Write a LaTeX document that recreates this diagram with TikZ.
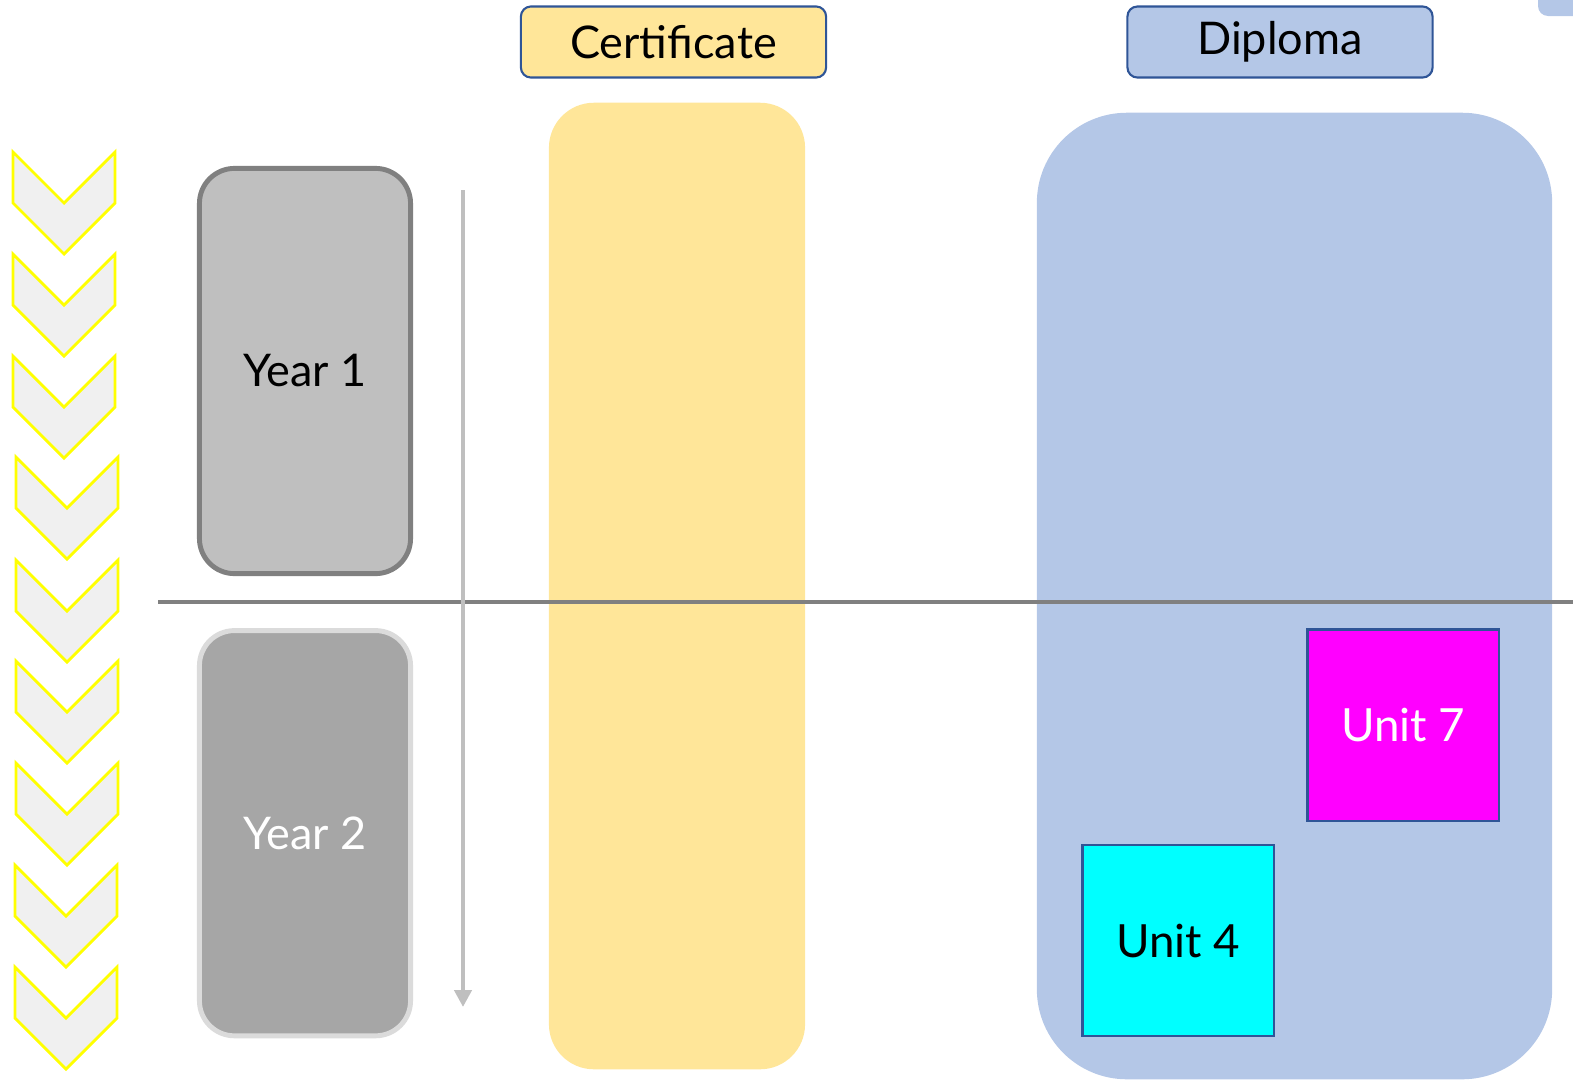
\documentclass[tikz,border=0pt]{standalone}
\usepackage{fontspec}
\setmainfont{Lato}
\usetikzlibrary{positioning,arrows.meta}

\definecolor{chevfill}{HTML}{F0F0F0}
\definecolor{chevline}{HTML}{FFFF00}
\definecolor{certfill}{HTML}{FFE699}
\definecolor{diplfill}{HTML}{B4C7E7}
\definecolor{headline}{HTML}{2F5597}
\definecolor{yearone}{HTML}{BFBFBF}
\definecolor{yeartwo}{HTML}{A6A6A6}
\definecolor{unitseven}{HTML}{FF00FF}
\definecolor{unitfour}{HTML}{00FFFF}

\begin{document}
\begin{tikzpicture}[
    x=0.01cm, y=-0.01cm,
    column/.style={rectangle, rounded corners=0.45cm, inner sep=0pt},
    header/.style={rectangle, draw=headline, line width=0.6pt, rounded corners=0.1cm,
        minimum width=3.05cm, minimum height=0.71cm, inner sep=0pt,
        font=\fontsize{12.8}{14}\selectfont},
    yearbox/.style={rectangle, line width=1.4pt, rounded corners=0.35cm,
        minimum width=2.11cm, minimum height=4.05cm, inner sep=0pt,
        font=\fontsize{12.8}{15}\selectfont},
    unitbox/.style={rectangle, draw=headline, line width=0.6pt,
        minimum size=1.91cm, inner sep=0pt, font=\fontsize{13}{15}\selectfont},
    chevron/.style={draw=chevline, fill=chevfill, line width=0.8pt},
    timeline/.style={-{Triangle[width=0.17cm, length=0.17cm]}, draw=yearone, line width=1.4pt}
]
    \useasboundingbox (0,0) rectangle (1573,1081);

    % columns
    \node[column, fill=certfill, minimum width=2.56cm, minimum height=9.66cm] (certcol) at (677,586) {};
    \node[column, fill=diplfill, rounded corners=0.9cm, minimum width=5.15cm, minimum height=9.66cm] (diplcol) at (1294.5,596) {};
    \fill[diplfill, rounded corners=0.1cm] (1538,-40) rectangle (1640,16);

    % headers
    \node[header, fill=certfill] (cert) at (673.5,42) {Certificate};
    \node[header, fill=diplfill] (dipl) at (1280,42) {Diploma};

    % years
    \node[yearbox, draw=gray, fill=yearone] (year1) at (305,371) {Year 1};
    \node[yearbox, draw=yeartwo!40, fill=yeartwo, text=white, below=0.52cm of year1] (year2) {Year 2};

    % divider and time arrow
    \coordinate (lineL) at (158,602);
    \coordinate (lineR) at (1573,602);
    \draw[gray, line width=1.4pt] (lineL) -- (lineR);
    \coordinate (timeA) at (463,190);
    \coordinate (timeB) at (463,1007);
    \draw[timeline] (timeA) -- (timeB);

    % units
    \node[unitbox, fill=unitseven, text=white] (unit7) at (1403,725) {Unit 7};
    \node[unitbox, fill=unitfour] (unit4) at (1178,940.5) {Unit 4};

    % chevrons
    \foreach \cy/\cx in {152/13, 254/13, 356/13, 457/16, 560/16, 661/16, 763/16, 865/15, 967/15}
        \draw[chevron] (\cx,\cy) -- ++(51,51) -- ++(51,-51) -- ++(0,51) -- ++(-51,51) -- ++(-51,-51) -- cycle;
\end{tikzpicture}
\end{document}
